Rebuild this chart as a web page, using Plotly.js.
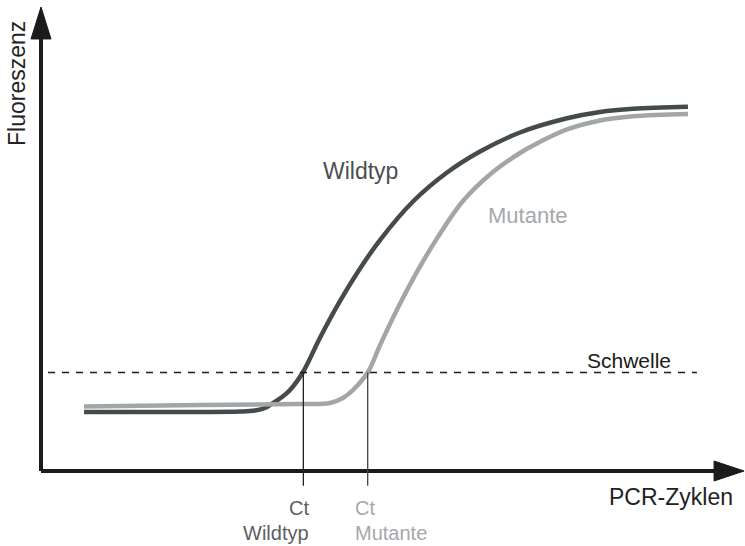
<!DOCTYPE html>
<html>
<head>
<meta charset="utf-8">
<script src="https://cdn.plot.ly/plotly-3.0.1.min.js"></script>
<style>html,body{margin:0;padding:0;background:#fff;}#chart{width:745px;height:546px;}</style>
</head>
<body>
<div id="chart"></div>
<script>
// PCR cycles (x) and fluorescence (y)
const wildtypCycles = [2.87, 10.6, 13.27, 14.27, 14.93, 15.47, 16.07, 16.6, 17.47, 18.6, 19.93, 21.27, 22.6, 24.8, 27.07, 29.27, 31.93, 35.07, 37.27, 39.47, 43.13];
const wildtypFluor  = [12.72, 12.72, 12.82, 13.04, 13.58, 14.66, 15.95, 17.46, 21.34, 28.73, 36.62, 43.64, 49.78, 58.08, 64.33, 68.86, 72.95, 76.01, 77.37, 78.06, 78.51];
const mutanteCycles = [2.87, 10.6, 17.27, 19.27, 20.13, 20.8, 21.8, 22.6, 23.73, 25.13, 26.4, 28.13, 30.13, 31.93, 32.8, 35.07, 37.27, 39.47, 43.13];
const mutanteFluor  = [13.9, 14.22, 14.44, 14.66, 15.73, 17.46, 21.34, 27.11, 34.76, 43.28, 50.13, 58.19, 64.44, 68.53, 70.15, 73.6, 75.54, 76.44, 76.94];
const threshold = 21.23;
const thresholdSpan = [0.47, 43.73];
const ctWildtyp = 17.49;
const ctMutante = 21.78;
const axisMaxX = 46.87;
const axisMaxY = 100;

const labels = {
  yTitle: 'Fluoreszenz',
  xTitle: 'PCR-Zyklen',
  wildtyp: 'Wildtyp',
  mutante: 'Mutante',
  schwelle: 'Schwelle',
  ct: 'Ct'
};

const DARK = '#454b4b';
const GRAY = '#a3a6a9';
const AX = '#1b1b1b';
const FONT = 'Liberation Sans, Arial, sans-serif';

const traces = [
  {x: wildtypCycles, y: wildtypFluor, mode: 'lines', line: {color: DARK, width: 4.5, shape: 'spline', smoothing: 1}, hoverinfo: 'skip'},
  {x: mutanteCycles, y: mutanteFluor, mode: 'lines', line: {color: GRAY, width: 4.5, shape: 'spline', smoothing: 1}, hoverinfo: 'skip'}
];

const shapes = [
  // axes
  {type: 'line', xref: 'x', yref: 'y', x0: 0, y0: 0, x1: 0, y1: axisMaxY - 4, line: {color: AX, width: 4}},
  {type: 'line', xref: 'x', yref: 'y', x0: 0, y0: 0, x1: axisMaxX - 1.5, y1: 0, line: {color: AX, width: 4}},
  {type: 'path', xref: 'x', yref: 'y', xsizemode: 'pixel', ysizemode: 'pixel', xanchor: 0, yanchor: axisMaxY,
   path: 'M-10,-32 L0,0 L10,-32 Z', fillcolor: AX, line: {color: AX, width: 1}},
  {type: 'path', xref: 'x', yref: 'y', xsizemode: 'pixel', ysizemode: 'pixel', xanchor: axisMaxX, yanchor: 0,
   path: 'M-30,-10 L0,0 L-30,10 Z', fillcolor: AX, line: {color: AX, width: 1}},
  // threshold
  {type: 'line', xref: 'x', yref: 'y', x0: thresholdSpan[0], x1: thresholdSpan[1], y0: threshold, y1: threshold,
   line: {color: AX, width: 1.6, dash: '7px,7px'}},
  // Ct lines
  {type: 'line', xref: 'x', yref: 'y', x0: ctWildtyp, x1: ctWildtyp, y0: threshold, y1: -3.2, line: {color: '#222', width: 1.3}},
  {type: 'line', xref: 'x', yref: 'y', x0: ctMutante, x1: ctMutante, y0: threshold, y1: -3.2, line: {color: '#444', width: 1.3}}
];

const annotations = [
  {x: -1.6, y: 83.4, text: labels.yTitle, textangle: -90, showarrow: false, font: {family: FONT, size: 23, color: '#222'}},
  {x: 46.27, y: -5.6, xanchor: 'right', text: labels.xTitle, showarrow: false, font: {family: FONT, size: 23, color: '#222'}},
  {x: 21.33, y: 64.7, text: labels.wildtyp, showarrow: false, font: {family: FONT, size: 23, color: '#4a4f50'}},
  {x: 32.47, y: 55.1, text: labels.mutante, showarrow: false, font: {family: FONT, size: 22, color: '#a5a8ab'}},
  {x: 39.17, y: 23.8, text: labels.schwelle, showarrow: false, font: {family: FONT, size: 21, color: '#1a1a1a'}},
  {x: 18.0, y: -8.0, xanchor: 'right', text: labels.ct, showarrow: false, font: {family: FONT, size: 20, color: '#5b6063'}},
  {x: 18.0, y: -13.4, xanchor: 'right', text: labels.wildtyp, showarrow: false, font: {family: FONT, size: 20, color: '#5b6063'}},
  {x: 20.8, y: -8.0, xanchor: 'left', text: labels.ct, showarrow: false, font: {family: FONT, size: 20, color: '#a5a8ab'}},
  {x: 20.8, y: -13.4, xanchor: 'left', text: labels.mutante, showarrow: false, font: {family: FONT, size: 20, color: '#a5a8ab'}}
];

const layout = {
  width: 745, height: 546,
  margin: {l: 0, r: 0, t: 0, b: 0, pad: 0},
  paper_bgcolor: '#fff', plot_bgcolor: '#fff',
  showlegend: false,
  xaxis: {range: [-2.733, 46.933], visible: false, fixedrange: true},
  yaxis: {range: [-16.16, 101.5], visible: false, fixedrange: true},
  shapes: shapes,
  annotations: annotations
};

Plotly.newPlot('chart', traces, layout, {displayModeBar: false, staticPlot: true});
</script>
</body>
</html>
